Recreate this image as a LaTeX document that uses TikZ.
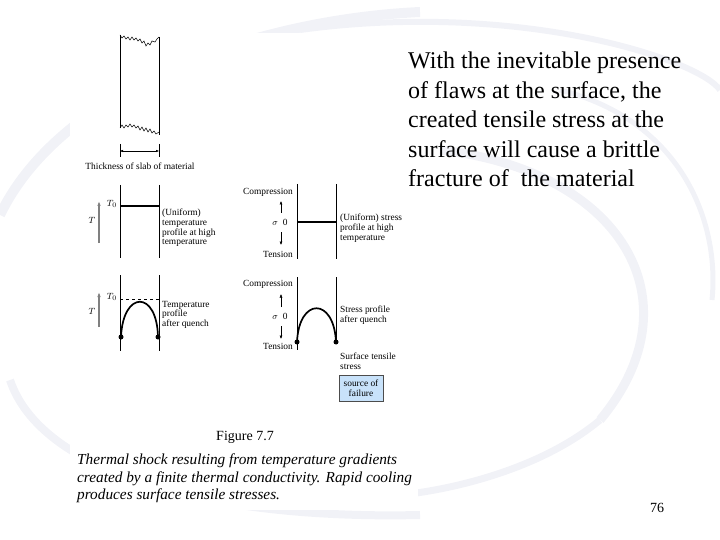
\documentclass[tikz,border=0pt]{standalone}
\usepackage{fontspec}
\setmainfont{Liberation Serif}
\usetikzlibrary{calc}
\usetikzlibrary{arrows.meta}
\definecolor{swirl}{RGB}{241,242,247}
\definecolor{failfill}{RGB}{200,226,250}

\begin{document}
\begin{tikzpicture}
        [
        x=1pt, y=-1pt,
        every node/.style={inner sep=0pt},
        small/.style={font=\fontsize{9.4}{9.6}\selectfont, align=left},
        wall/.style={line width=0.8pt},
        prof/.style={line width=1.7pt},
        dot/.style={circle, fill, minimum size=5pt},
        tarrow/.style={-{Latex[length=5pt,width=3.5pt]}, gray, line width=1.3pt},
        sarrow/.style={-{Latex[length=3.5pt,width=3pt]}, line width=0.5pt},
        >=Latex
        ]
        \useasboundingbox (0,0) rectangle (720,540);

        % faint swirl in the background
        \draw[swirl, line width=10pt] (0,215) .. controls (60,90) and (250,20) .. (420,12);
        \draw[swirl, line width=6pt] (300,30) .. controls (520,0) and (700,60) .. (720,90);
        \draw[swirl, line width=9pt] (440,150) .. controls (620,170) and (700,300) .. (600,420);
        \draw[swirl, line width=7pt] (600,420) .. controls (540,470) and (450,490) .. (400,495);
        \draw[swirl, line width=5pt] (560,90) .. controls (680,120) and (720,220) .. (712,300);
        \draw[swirl, line width=8pt] (10,380) .. controls (40,470) and (200,520) .. (420,515);
        \fill[white] (70,33) rectangle (418,510);

        % slab of material
        \coordinate (s1t) at (120,35);
        \coordinate (s1b) at (120,128);
        \coordinate (s2t) at (159,37);
        \coordinate (s2b) at (159,135);
        \draw[wall] (s1t) -- (s1b);
        \draw[wall] (s2t) -- (s2b);
        \draw[line width=0.5pt] (s1t) -- (122,38) -- (124,36) -- (126,39) -- (128,37) -- (130,40)
            -- (132,37) -- (134,40) -- (136,38) -- (138,41) -- (140,39) -- (142,43) -- (144,41)
            -- (146,46) -- (148,43) -- (150,45) -- (152,41) -- (155,42) -- (157,39) -- (s2t);
        \draw[line width=0.5pt] (s1b) -- (122,125) -- (124,128) -- (126,125) -- (128,127) -- (130,124)
            -- (132,127) -- (134,125) -- (136,128) -- (138,126) -- (140,130) -- (142,127) -- (144,131)
            -- (146,128) -- (148,132) -- (150,129) -- (152,133) -- (154,131) -- (156,134) -- (159,132);
        \coordinate (d1) at (120,151);
        \coordinate (d2) at (159,151);
        \draw[line width=0.4pt] ($(d1)+(0,-7)$) -- ($(d1)+(0,6)$);
        \draw[line width=0.4pt] ($(d2)+(0,-7)$) -- ($(d2)+(0,6)$);
        \draw[{Latex[length=3pt,width=2.5pt]}-{Latex[length=3pt,width=2.5pt]}, line width=0.4pt] (d1) -- (d2);
        \node[small, anchor=base] (thick) at (140,170) {Thickness of slab of material};

        % uniform temperature
        \coordinate (a1t) at (120,185);
        \coordinate (a1b) at (120,258);
        \coordinate (a2t) at (159,185);
        \coordinate (a2b) at (159,258);
        \draw[wall] (a1t) -- (a1b);
        \draw[wall] (a2t) -- (a2b);
        \coordinate (ta) at (120,206);
        \coordinate (tb) at (159,206);
        \draw[prof] (ta) -- (tb);
        \node[small, anchor=east] (T0a) at ($(ta)+(-3,-2)$) {$T_0$};
        \coordinate (tu1) at (99,243);
        \coordinate (tu2) at (99,201);
        \draw[tarrow] (tu1) -- (tu2);
        \node[small] (Ta) at (92,220) {$T$};
        \node[small, anchor=north west] (unitemp) at (162,209) {(Uniform)\\temperature\\profile at high\\temperature};

        % uniform stress
        \coordinate (b1t) at (297,184);
        \coordinate (b1b) at (297,259);
        \coordinate (b2t) at (336,184);
        \coordinate (b2b) at (336,259);
        \draw[wall] (b1t) -- (b1b);
        \draw[wall] (b2t) -- (b2b);
        \coordinate (sa) at (297,222);
        \coordinate (sb) at (336,222);
        \draw[prof] (sa) -- (sb);
        \node[small, anchor=east] (comp1) at (293,192) {Compression};
        \node[small, anchor=east] (tens1) at (293,254) {Tension};
        \node[small] (sig1) at (280,222) {$\sigma$\,\,\,0};
        \coordinate (su1) at (281,213);
        \coordinate (su2) at (281,201);
        \coordinate (sd1) at (281,232);
        \coordinate (sd2) at (281,245);
        \draw[sarrow] (su1) -- (su2);
        \draw[sarrow] (sd1) -- (sd2);
        \node[small, anchor=north west] (unistress) at (340,214) {(Uniform) stress\\profile at high\\temperature};

        % temperature after quench
        \coordinate (c1t) at (120,275);
        \coordinate (c1b) at (120,351);
        \coordinate (c2t) at (159,275);
        \coordinate (c2b) at (159,351);
        \draw[wall] (c1t) -- (c1b);
        \draw[wall] (c2t) -- (c2b);
        \coordinate (qa) at (120,299);
        \coordinate (qb) at (159,299);
        \draw[dashed, line width=0.5pt] (qa) -- (qb);
        \node[small, anchor=east] (T0b) at ($(qa)+(-3,-2)$) {$T_0$};
        \node[dot] (ca) at (121,337) {};
        \node[dot] (cb) at (158,337) {};
        \draw[prof] (ca.center) .. controls (123,290) and (157,290) .. (cb.center);
        \coordinate (tq1) at (99,327);
        \coordinate (tq2) at (99,292);
        \draw[tarrow] (tq1) -- (tq2);
        \node[small] (Tb) at (92,311) {$T$};
        \node[small, anchor=north west] (quenchtemp) at (162,301) {Temperature\\profile\\after quench};

        % stress after quench
        \coordinate (e1t) at (297,277);
        \coordinate (e1b) at (297,350);
        \coordinate (e2t) at (336,277);
        \draw[wall] (e1t) -- (e1b);
        \node[dot] (ea) at (297,342) {};
        \node[dot] (eb) at (336,342) {};
        \draw[wall] (e2t) -- (eb.center);
        \draw[prof] (ea.center) .. controls (299,297) and (334,297) .. (eb.center);
        \node[small, anchor=east] (comp2) at (293,284) {Compression};
        \node[small, anchor=east] (tens2) at (293,346) {Tension};
        \node[small] (sig2) at (280,316) {$\sigma$\,\,\,0};
        \coordinate (sq1) at (281,307);
        \coordinate (sq2) at (281,294);
        \coordinate (sq3) at (281,326);
        \coordinate (sq4) at (281,339);
        \draw[sarrow] (sq1) -- (sq2);
        \draw[sarrow] (sq3) -- (sq4);
        \node[small, anchor=north west] (quenchstress) at (340,306) {Stress profile\\after quench};
        \node[small, anchor=north west] (surface) at (340,353) {Surface tensile\\stress};
        \node[small, align=center, draw=gray!60!black, line width=0.6pt, fill=failfill,
              minimum width=44pt, minimum height=26pt] (fail) at (361,388) {source of\\failure};

        % caption
        \node[anchor=base, font=\fontsize{14}{16}\selectfont] (fig) at (245,440) {Figure 7.7};
        \node[anchor=north west, align=left, font=\fontsize{15.3}{17.5}\selectfont\itshape] (caption) at (77,454)
            {Thermal shock resulting from temperature gradients\\created by a finite thermal conductivity. Rapid cooling\\produces surface tensile stresses.};

        % remark on the right
        \node[anchor=north west, align=left, font=\fontsize{24}{29.5}\selectfont] (remark) at (408,52)
            {With the inevitable presence\\of flaws at the surface, the\\created tensile stress at the\\surface will cause a brittle\\fracture of\ \ the material};
        \node[anchor=base, font=\fontsize{14}{16}\selectfont] (page) at (657,512) {76};
\end{tikzpicture}
\end{document}
